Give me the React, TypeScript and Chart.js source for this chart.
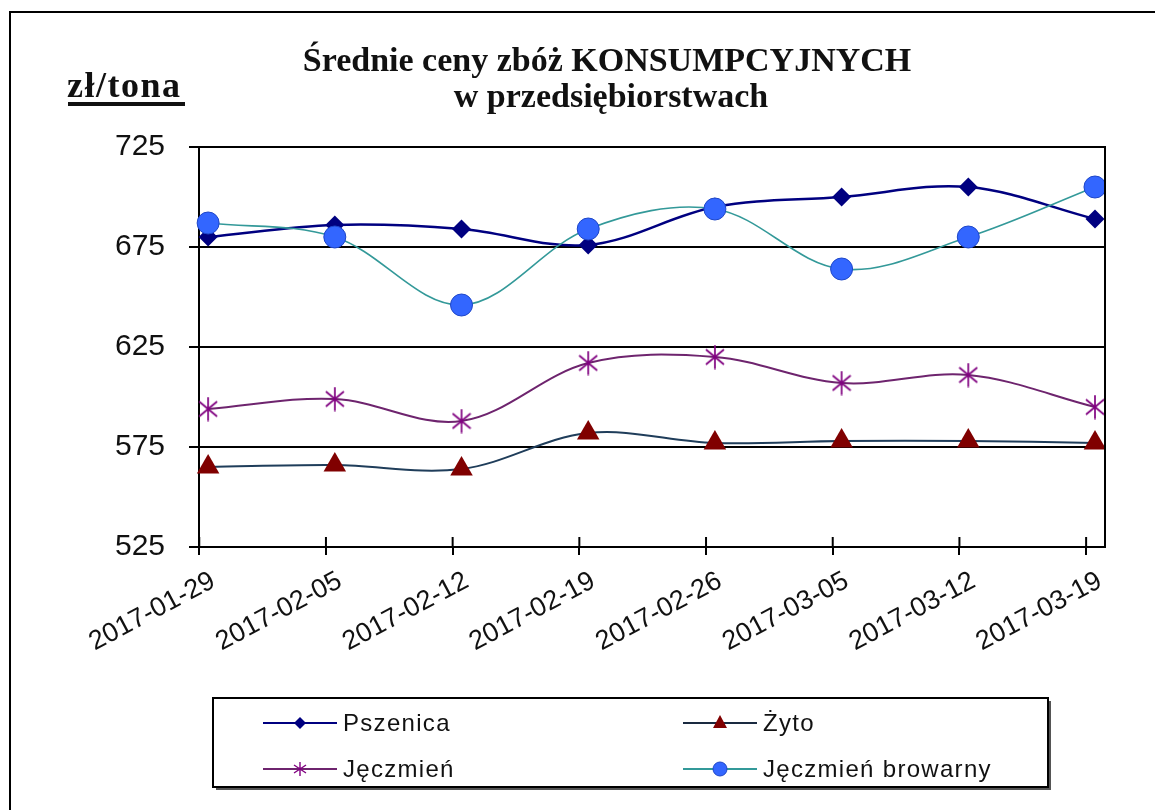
import React, { useEffect, useRef } from 'react';
import { Chart, registerables } from 'chart.js';

Chart.register(...registerables);

// ---------- data ----------
const categories = ['2017-01-29', '2017-02-05', '2017-02-12', '2017-02-19', '2017-02-26', '2017-03-05', '2017-03-12', '2017-03-19'];
const pszenica = [680, 686, 684, 676, 695, 700, 705, 689];
const zyto = [565, 566, 564, 582, 577, 578, 578, 577];
const jeczmien = [594, 599, 588, 617, 620, 607, 611, 595];
const jeczmienBrowarny = [687, 680, 646, 684, 694, 664, 680, 705];
const yTicks = [525, 575, 625, 675, 725];
const seriesNames = ['Pszenica', 'Żyto', 'Jęczmień', 'Jęczmień browarny'];
const titleLines = ['Średnie ceny zbóż KONSUMPCYJNYCH', 'w przedsiębiorstwach'];
const unitLabel = 'zł/tona';

// ---------- styles ----------
const W = 1155;
const H = 810;
const SERIF = '"Liberation Serif", "Times New Roman", serif';
const SANS = '"Liberation Sans", Arial, sans-serif';
const colors = {
  pszLine: '#000080', pszPoint: '#000080',
  zytLine: '#1f3d5a', zytPoint: '#800000',
  jecLine: '#6e246e', jecPoint: '#800080',
  jbrLine: '#339999', jbrPoint: '#3366ff', jbrBorder: '#1e46c8',
};
const TICK_SHIFT = 0.07;

function makeStar(w: number, h: number, color: string, lw: number): HTMLCanvasElement {
  const c = document.createElement('canvas');
  c.width = w;
  c.height = h;
  const ctx = c.getContext('2d')!;
  ctx.strokeStyle = color;
  ctx.lineWidth = lw;
  ctx.lineCap = 'butt';
  ctx.beginPath();
  ctx.moveTo(w / 2, 0.5);
  ctx.lineTo(w / 2, h - 0.5);
  ctx.moveTo(1, h * 0.2);
  ctx.lineTo(w - 1, h * 0.8);
  ctx.moveTo(1, h * 0.8);
  ctx.lineTo(w - 1, h * 0.2);
  ctx.stroke();
  return c;
}

function toPoints(vals: number[]) {
  return vals.map((v, i) => ({ x: i, y: v }));
}

export default function App() {
  const ref = useRef<HTMLCanvasElement>(null);

  useEffect(() => {
    const canvas = ref.current!;
    const starBig = makeStar(20, 25, colors.jecPoint, 1.7);

    const drawLegendMarker = (ctx: CanvasRenderingContext2D, idx: number, x: number, y: number) => {
      ctx.save();
      if (idx === 0) {
        ctx.fillStyle = colors.pszPoint;
        ctx.beginPath();
        ctx.moveTo(x, y - 6);
        ctx.lineTo(x + 6, y);
        ctx.lineTo(x, y + 6);
        ctx.lineTo(x - 6, y);
        ctx.closePath();
        ctx.fill();
      } else if (idx === 1) {
        ctx.fillStyle = colors.zytPoint;
        ctx.beginPath();
        ctx.moveTo(x, y - 8);
        ctx.lineTo(x + 7, y + 5);
        ctx.lineTo(x - 7, y + 5);
        ctx.closePath();
        ctx.fill();
      } else if (idx === 2) {
        ctx.strokeStyle = colors.jecPoint;
        ctx.lineWidth = 1.4;
        ctx.beginPath();
        ctx.moveTo(x, y - 7);
        ctx.lineTo(x, y + 7);
        ctx.moveTo(x - 6, y - 4);
        ctx.lineTo(x + 6, y + 4);
        ctx.moveTo(x - 6, y + 4);
        ctx.lineTo(x + 6, y - 4);
        ctx.stroke();
      } else {
        ctx.fillStyle = colors.jbrPoint;
        ctx.strokeStyle = colors.jbrBorder;
        ctx.lineWidth = 1;
        ctx.beginPath();
        ctx.arc(x, y, 7, 0, Math.PI * 2);
        ctx.fill();
        ctx.stroke();
      }
      ctx.restore();
    };

    const legendLineColors = [colors.pszLine, '#1a2a40', colors.jecLine, colors.jbrLine];

    const decor = {
      id: 'decor',
      beforeDraw(chart: any) {
        const ctx = chart.ctx as CanvasRenderingContext2D;
        ctx.save();
        ctx.fillStyle = '#ffffff';
        ctx.fillRect(0, 0, W, H);
        ctx.restore();
      },
      afterDatasetsDraw(chart: any) {
        const ctx = chart.ctx as CanvasRenderingContext2D;
        const { right, top, bottom } = chart.chartArea;
        ctx.save();
        ctx.strokeStyle = '#000';
        ctx.lineWidth = 2;
        ctx.beginPath();
        ctx.moveTo(right, top - 1);
        ctx.lineTo(right, bottom + 1);
        ctx.stroke();
        ctx.restore();
      },
      afterDraw(chart: any) {
        const ctx = chart.ctx as CanvasRenderingContext2D;
        const xs = chart.scales.x;
        const { bottom } = chart.chartArea;
        ctx.save();
        // upper part of x tick marks
        ctx.strokeStyle = '#000';
        ctx.lineWidth = 2;
        categories.forEach((_, i) => {
          const px = xs.getPixelForValue(i - TICK_SHIFT);
          ctx.beginPath();
          ctx.moveTo(px, bottom - 10);
          ctx.lineTo(px, bottom);
          ctx.stroke();
        });
        // outer frame
        ctx.lineWidth = 2;
        ctx.strokeRect(10, 12, W + 40, H + 40);
        // title
        ctx.fillStyle = '#111';
        ctx.textAlign = 'center';
        ctx.textBaseline = 'alphabetic';
        ctx.font = `bold 34px ${SERIF}`;
        ctx.fillText(titleLines[0], 607, 71);
        ctx.fillText(titleLines[1], 611, 107);
        // unit label
        ctx.textAlign = 'left';
        ctx.font = `bold 36px ${SERIF}`;
        try { (ctx as any).letterSpacing = '1.5px'; } catch (e) {}
        ctx.fillText(unitLabel, 67, 97);
        try { (ctx as any).letterSpacing = '0px'; } catch (e) {}
        ctx.fillRect(68, 102, 117, 4);
        // legend box
        const lx = 213, ly = 698, lw = 835, lh = 89;
        ctx.fillStyle = '#555';
        ctx.fillRect(lx + 3, ly + lh, lw, 3);
        ctx.fillRect(lx + lw, ly + 3, 3, lh);
        ctx.fillStyle = '#fff';
        ctx.fillRect(lx, ly, lw, lh);
        ctx.strokeStyle = '#000';
        ctx.lineWidth = 2;
        ctx.strokeRect(lx, ly, lw, lh);
        const colX = [263, 683];
        const rowY = [723, 769];
        ctx.font = `24px ${SANS}`;
        ctx.textBaseline = 'middle';
        try { (ctx as any).letterSpacing = '1.3px'; } catch (e) {}
        seriesNames.forEach((name, idx) => {
          const cx = colX[idx % 2];
          const cy = rowY[Math.floor(idx / 2)];
          ctx.strokeStyle = legendLineColors[idx];
          ctx.lineWidth = 2;
          ctx.beginPath();
          ctx.moveTo(cx, cy);
          ctx.lineTo(cx + 74, cy);
          ctx.stroke();
          drawLegendMarker(ctx, idx, cx + 37, cy);
          ctx.fillStyle = '#111';
          ctx.fillText(name, cx + 80, cy + 1);
        });
        try { (ctx as any).letterSpacing = '0px'; } catch (e) {}
        ctx.restore();
      },
    };

    const clip = { left: 20, top: 20, right: 0, bottom: 20 };

    const chart = new Chart(canvas, {
      type: 'line',
      data: {
        datasets: [
          {
            label: seriesNames[0],
            data: toPoints(pszenica),
            borderColor: colors.pszLine,
            backgroundColor: colors.pszPoint,
            borderWidth: 2.5,
            pointStyle: 'rectRot',
            pointRadius: 9.5,
            pointBorderWidth: 0,
            pointBackgroundColor: colors.pszPoint,
            tension: 0.35,
            order: 1,
            clip,
          },
          {
            label: seriesNames[1],
            data: toPoints(zyto),
            borderColor: colors.zytLine,
            backgroundColor: colors.zytPoint,
            borderWidth: 2,
            pointStyle: 'triangle',
            pointRadius: 13,
            pointBorderWidth: 0,
            pointBackgroundColor: colors.zytPoint,
            tension: 0.35,
            order: 2,
            clip,
          },
          {
            label: seriesNames[2],
            data: toPoints(jeczmien),
            borderColor: colors.jecLine,
            backgroundColor: colors.jecPoint,
            borderWidth: 2,
            pointStyle: starBig as any,
            pointRadius: 11,
            tension: 0.35,
            order: 3,
            clip,
          },
          {
            label: seriesNames[3],
            data: toPoints(jeczmienBrowarny),
            borderColor: colors.jbrLine,
            backgroundColor: colors.jbrPoint,
            borderWidth: 1.6,
            pointStyle: 'circle',
            pointRadius: 11,
            pointBorderWidth: 1,
            pointBorderColor: colors.jbrBorder,
            pointBackgroundColor: colors.jbrPoint,
            tension: 0.35,
            order: 0,
            clip,
          },
        ],
      },
      options: {
        responsive: false,
        animation: false,
        devicePixelRatio: 1,
        layout: { padding: { left: 0, top: 147, right: W - 1105, bottom: 0 } },
        plugins: {
          legend: { display: false },
          title: { display: false },
          tooltip: { enabled: false },
        },
        events: [],
        scales: {
          x: {
            type: 'linear',
            min: -0.072,
            max: 7.079,
            afterFit: (s: any) => { s.height = H - 547; },
            afterBuildTicks: (s: any) => {
              s.ticks = categories.map((_, i) => ({ value: i - TICK_SHIFT }));
            },
            grid: { drawOnChartArea: false, drawTicks: true, tickLength: 8, color: '#000', lineWidth: 2 },
            border: { display: true, color: '#000', width: 2 },
            ticks: {
              autoSkip: false,
              minRotation: 28,
              maxRotation: 28,
              padding: 10,
              labelOffset: 14,
              color: '#111',
              font: { family: SANS, size: 27 },
              callback: (_v: any, i: number) => categories[i],
            },
          },
          y: {
            type: 'linear',
            min: 525,
            max: 725,
            afterFit: (s: any) => { s.width = 199; },
            afterBuildTicks: (s: any) => {
              s.ticks = yTicks.map((v) => ({ value: v }));
            },
            grid: { drawOnChartArea: true, drawTicks: true, tickLength: 10, color: '#000', lineWidth: 2 },
            border: { display: true, color: '#000', width: 2 },
            ticks: {
              padding: 24,
              color: '#111',
              font: { family: SANS, size: 30 },
              callback: (v: any) => String(v),
            },
          },
        },
      },
      plugins: [decor],
    } as any);

    return () => chart.destroy();
  }, []);

  return (
    <div style={{ position: 'fixed', left: 0, top: 0, width: W, height: H, background: '#fff' }}>
      <canvas ref={ref} width={W} height={H} style={{ display: 'block', width: W, height: H }} />
    </div>
  );
}
